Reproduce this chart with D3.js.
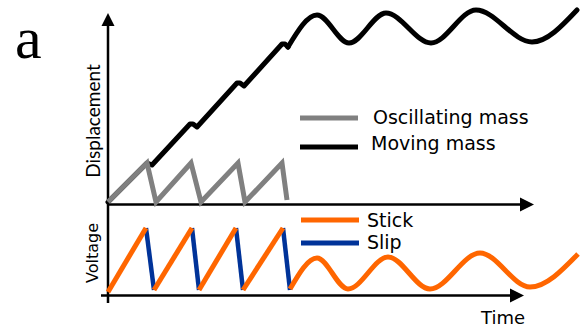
<!DOCTYPE html>
<html>
<head>
<meta charset="utf-8">
<script src="https://cdn.jsdelivr.net/npm/d3@7"></script>
<style>
  html, body { margin: 0; padding: 0; background: #fff; }
  svg { display: block; }
</style>
</head>
<body>
<svg id="chart" width="581" height="329"></svg>
<script>
// ---------------- DATA ----------------
// Top panel: displacement vs time
const oscTime   = [0, 3.9, 4.8, 8.3, 9.3, 13.0, 13.7, 17.4, 17.9];
const oscDisp   = [0, 3.9, 0,   3.9, 0,   3.9,  0,    3.9,  0.2];

// moving mass: stepped ramp while stick-slip, then free oscillation
const movRampTime = [0, 3.9, 4.4, 8.2, 8.5, 8.9, 12.9, 13.2, 13.6, 17.4, 17.7, 18.0];
const movRampDisp = [0, 3.9, 3.7, 7.8, 7.8, 7.5, 11.9, 11.9, 11.6, 15.8, 15.8, 15.5];
const movWaveTime = [18.0, 20.9, 24.1, 27.8, 32.3, 36.8, 42.4, 46.9];
const movWaveDisp = [15.5, 18.7, 15.9, 18.9, 15.9, 19.2, 16.0, 19.2];

// Bottom panel: voltage vs time
const stickRamps = [            // [t0, v0, t1, v1]
  [0,   0,   3.8,  6.4],
  [4.6, 0.2, 8.4,  6.4],
  [9.1, 0.2, 12.8, 6.4],
  [13.5,0.2, 17.5, 6.4]
];
const slipDrops = [
  [3.8,  6.4, 4.6,  0.2],
  [8.4,  6.4, 9.1,  0.2],
  [12.8, 6.4, 13.5, 0.2],
  [17.5, 6.4, 18.2, 0.2]
];
const waveTime = [18.2, 20.9, 24.0, 28.0, 32.2, 37.2, 42.2, 47.0];
const waveVolt = [0.3,  3.4,  0.3,  3.5,  0.3,  3.9,  0.5,  3.8];

const legendTop    = ["Oscillating mass", "Moving mass"];
const legendBottom = ["Stick", "Slip"];

// ---------------- LAYOUT ----------------
const svg = d3.select("#chart");
const X0 = 108;
const x  = d3.scaleLinear().domain([0, 47]).range([X0, 578]);
const yTop = d3.scaleLinear().domain([0, 19]).range([202, 12]);
const yBot = d3.scaleLinear().domain([0, 6.4]).range([292, 228]);

const GRAY = "#808080", BLACK = "#000000", ORANGE = "#FF6600", BLUE = "#003399";

// ---------------- AXES ----------------
const axisG = svg.append("g");
axisG.append("line").attr("x1", X0).attr("x2", X0).attr("y1", 24).attr("y2", 303)
  .attr("stroke", "#000").attr("stroke-width", 2.5);
axisG.append("path").attr("d", `M${X0},13 L${X0-6.5},26 L${X0+6.5},26 Z`).attr("fill", "#000");
axisG.append("line").attr("x1", X0).attr("x2", 522).attr("y1", 204.5).attr("y2", 204.5)
  .attr("stroke", "#000").attr("stroke-width", 2.5);
axisG.append("path").attr("d", `M534,204.5 L520,197.5 L520,211.5 Z`).attr("fill", "#000");
axisG.append("line").attr("x1", 101).attr("x2", 512).attr("y1", 295.5).attr("y2", 295.5)
  .attr("stroke", "#000").attr("stroke-width", 2.5);
axisG.append("path").attr("d", `M524,295.5 L510,288.5 L510,302.5 Z`).attr("fill", "#000");

// ---------------- LINES ----------------
const lineTopLin = d3.line().x(d => x(d[0])).y(d => yTop(d[1]));
const lineTopCur = d3.line().x(d => x(d[0])).y(d => yTop(d[1])).curve(d3.curveMonotoneX);
const rampData = movRampTime.map((t, i) => [t, movRampDisp[i]]);
const mwData   = movWaveTime.map((t, i) => [t, movWaveDisp[i]]);
const oscData  = oscTime.map((t, i) => [t, oscDisp[i]]);

svg.append("path").attr("d", lineTopLin(rampData))
  .attr("fill", "none").attr("stroke", BLACK).attr("stroke-width", 5)
  .attr("stroke-linejoin", "round").attr("stroke-linecap", "round");
svg.append("path").attr("d", lineTopCur(mwData))
  .attr("fill", "none").attr("stroke", BLACK).attr("stroke-width", 5)
  .attr("stroke-linecap", "round");

svg.append("path").attr("d", lineTopLin(oscData))
  .attr("fill", "none").attr("stroke", GRAY).attr("stroke-width", 5);

const lineBot = d3.line().x(d => x(d[0])).y(d => yBot(d[1]));
svg.append("g").selectAll("path").data(slipDrops).join("path")
  .attr("d", d => lineBot([[d[0], d[1]], [d[2], d[3]]]))
  .attr("fill", "none").attr("stroke", BLUE).attr("stroke-width", 4.5);
svg.append("g").selectAll("path").data(stickRamps).join("path")
  .attr("d", d => lineBot([[d[0], d[1]], [d[2], d[3]]]))
  .attr("fill", "none").attr("stroke", ORANGE).attr("stroke-width", 5);
const waveData = waveTime.map((t, i) => [t, waveVolt[i]]);
svg.append("path")
  .attr("d", d3.line().x(d => x(d[0])).y(d => yBot(d[1])).curve(d3.curveMonotoneX)(waveData))
  .attr("fill", "none").attr("stroke", ORANGE).attr("stroke-width", 5);

// ---------------- LEGENDS ----------------
const font = "'DejaVu Sans', Verdana, sans-serif";
const legTop = svg.append("g");
[[GRAY, 118, 124, 373], [BLACK, 147, 150, 371]].forEach((r, i) => {
  legTop.append("line").attr("x1", 300).attr("x2", 358).attr("y1", r[1]).attr("y2", r[1])
    .attr("stroke", r[0]).attr("stroke-width", 5);
  legTop.append("text").attr("x", r[3]).attr("y", r[2]).text(legendTop[i])
    .attr("font-family", font).attr("font-size", 19).attr("fill", "#000");
});
const legBot = svg.append("g");
[[ORANGE, 220, 227], [BLUE, 243, 249]].forEach((r, i) => {
  legBot.append("line").attr("x1", 301).attr("x2", 359).attr("y1", r[1]).attr("y2", r[1])
    .attr("stroke", r[0]).attr("stroke-width", 5);
  legBot.append("text").attr("x", 367).attr("y", r[2]).text(legendBottom[i])
    .attr("font-family", font).attr("font-size", 19).attr("fill", "#000");
});

// ---------------- LABELS ----------------
svg.append("text").attr("x", 15).attr("y", 58).text("a")
  .attr("font-family", "'Liberation Serif', 'Times New Roman', serif").attr("font-size", 60);
svg.append("text").attr("transform", "translate(100,121) rotate(-90)")
  .attr("text-anchor", "middle").text("Displacement")
  .attr("font-family", "Lato, sans-serif").attr("font-size", 19);
svg.append("text").attr("transform", "translate(98,253) rotate(-90)")
  .attr("text-anchor", "middle").text("Voltage")
  .attr("font-family", font).attr("font-size", 16);
svg.append("text").attr("x", 481).attr("y", 324).text("Time")
  .attr("font-family", font).attr("font-size", 18);
</script>
</body>
</html>
